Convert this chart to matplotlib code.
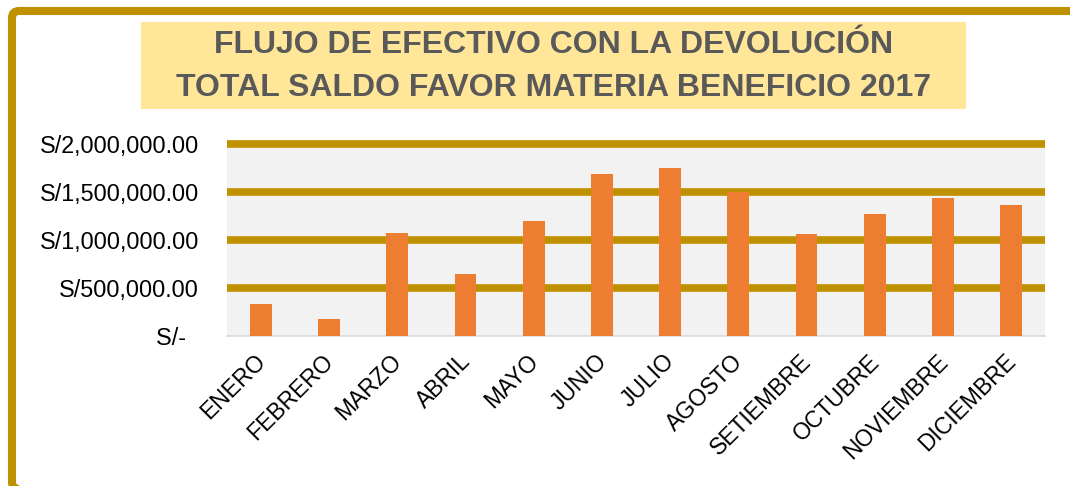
import matplotlib.pyplot as plt
import matplotlib.patches as mpatches
import matplotlib.transforms as mtransforms
import numpy as np

# ── Data ──────────────────────────────────────────────────────────
meses = ["ENERO", "FEBRERO", "MARZO", "ABRIL", "MAYO", "JUNIO", "JULIO",
         "AGOSTO", "SETIEMBRE", "OCTUBRE", "NOVIEMBRE", "DICIEMBRE"]
flujo = [335000, 180000, 1068000, 650000, 1200000, 1688000, 1746000,
         1497000, 1065000, 1269000, 1435000, 1362000]
y_ticks  = [0, 500000, 1000000, 1500000, 2000000]
y_labels = ["S/-  ", "S/500,000.00", "S/1,000,000.00", "S/1,500,000.00", "S/2,000,000.00"]
titulo = ["FLUJO DE EFECTIVO CON LA DEVOLUCIÓN",
          "TOTAL SALDO FAVOR MATERIA BENEFICIO 2017"]

GOLD = "#BF9000"
ORANGE = "#ED7D31"
plt.rcParams.update({"font.family": ["Liberation Sans", "DejaVu Sans"]})

fig = plt.figure(figsize=(10.7, 4.86), dpi=100)

# ── Marco exterior redondeado ─────────────────────────────────────
frame = mpatches.FancyBboxPatch((0.12, -0.03), 10.7, 4.86 - 0.11 + 0.03,
                                boxstyle="round,pad=0,rounding_size=0.07",
                                transform=fig.dpi_scale_trans, fill=False,
                                edgecolor=GOLD, linewidth=5.8, zorder=0)
fig.patches.append(frame)

# ── Título en caja amarilla ───────────────────────────────────────
tbox = mpatches.Rectangle((1.41, 3.775), 8.25, 0.865, transform=fig.dpi_scale_trans,
                          facecolor="#FFE699", edgecolor="none", zorder=1)
fig.patches.append(tbox)
for i, linea in enumerate(titulo):
    fig.text(5.535 / 10.7, 1 - (45 + 43 * i) / 486, linea, ha="center", va="center",
             fontsize=23, fontweight="bold", color="#595959")

# ── Gráfico de barras ─────────────────────────────────────────────
ax = fig.add_axes([226.7 / 1070, 150 / 486, 818.6 / 1070, 192 / 486])
ax.set_facecolor("#F2F2F2")
x = np.arange(len(meses))
ax.bar(x, flujo, width=0.32, color=ORANGE, zorder=3)
for yv in y_ticks[1:]:
    ax.axhline(yv, color=GOLD, linewidth=5.5, zorder=2, clip_on=False,
               solid_capstyle="butt")

ax.set_xlim(-0.5, len(meses) - 0.5)
ax.set_ylim(0, 2000000)
ax.set_yticks(y_ticks)
ax.set_yticklabels(y_labels, fontsize=16.8)
ax.set_xticks(x)
ax.set_xticklabels(meses, rotation=45, ha="right", rotation_mode="anchor", fontsize=16.5)
ax.tick_params(axis="both", length=0)
ax.tick_params(axis="y", pad=20)
ax.tick_params(axis="x", pad=10)
shift = mtransforms.ScaledTranslation(-5 / 72, 0 / 72, fig.dpi_scale_trans)
for lbl in ax.get_xticklabels():
    lbl.set_transform(lbl.get_transform() + shift)
for s in ["top", "right", "left"]:
    ax.spines[s].set_visible(False)
ax.spines["bottom"].set_color("#D9D9D9")
ax.spines["bottom"].set_linewidth(1.2)

plt.savefig("out.png", dpi=100)
